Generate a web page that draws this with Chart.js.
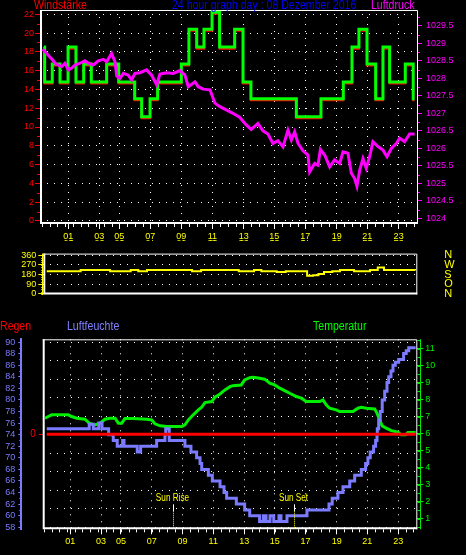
<!DOCTYPE html>
<html>
<head>
<meta charset="utf-8">
<script src="https://cdn.jsdelivr.net/npm/chart.js@4.4.1/dist/chart.umd.min.js"></script>
<style>
  html, body { margin: 0; padding: 0; background: #000; width: 466px; height: 555px; overflow: hidden; }
  canvas { position: absolute; left: 0; }
  .t { position: absolute; font-family: 'Liberation Sans', Arial, sans-serif; font-size: 12px; line-height: 12px;
       white-space: nowrap; transform: scaleX(0.88); transform-origin: 0 0; z-index: 2; }
</style>
</head>
<body>
<div class="t" style="left:34px;top:-1px;color:#ff0000">Windstärke</div>
<div class="t" style="left:172px;top:-1px;color:#0000ff">24 hour graph day : 08 Dezember 2016</div>
<div class="t" style="left:371px;top:-1px;color:#ff00ff">Luftdruck</div>
<div class="t" style="left:0px;top:320px;color:#ff0000">Regen</div>
<div class="t" style="left:67px;top:320px;color:#8080ff">Luftfeuchte</div>
<div class="t" style="left:313px;top:320px;color:#00ff00">Temperatur</div>

<canvas id="windChart" style="top:0" width="466" height="245"></canvas>
<canvas id="dirChart" style="top:228px" width="466" height="92"></canvas>
<canvas id="climateChart" style="top:315px" width="466" height="240"></canvas>

<script>
// ---- data (x = hours from the left edge of the plots) ----
const hourTicks = [1.83, 3.83, 5.12, 7.12, 9.12, 11.12, 13.14, 15.12, 17.12, 19.14, 21.12, 23.14];
const hourLabels = ['01', '03', '05', '07', '09', '11', '13', '15', '17', '19', '21', '23'];

const windTicks = [0, 2, 4, 6, 8, 10, 12, 14, 16, 18, 20, 22];
const pressTicks = [1024, 1024.5, 1025, 1025.5, 1026, 1026.5, 1027, 1027.5, 1028, 1028.5, 1029, 1029.5];
const dirTicks = [0, 90, 180, 270, 360];
const dirLetters = ['N', 'O', 'S', 'W', 'N'];
const humTicks = [58, 60, 62, 64, 66, 68, 70, 72, 74, 76, 78, 80, 82, 84, 86, 88, 90];
const humGrid = [58, 61.2, 64.4, 67.6, 70.8, 74, 77.2, 80.4, 83.6, 86.8, 90];
const rainTicks = [0];
const tempTicks = [1, 2, 3, 4, 5, 6, 7, 8, 9, 10, 11];

const windHours = [0.24, 0.30, 0.79, 1.29, 1.81, 2.32, 2.82, 3.31, 4.30, 5.08, 6.11, 6.56, 7.10, 7.59, 9.12,
  9.61, 10.11, 10.58, 11.10, 11.59, 12.56, 13.10, 13.61, 16.54, 18.13, 19.57, 20.13, 20.58, 21.10, 21.66,
  22.13, 22.56, 23.57, 24.08, 24.17];
const windSpeed = [18.5, 14.8, 16.7, 14.8, 18.5, 14.8, 16.7, 14.8, 16.7, 14.8, 13.0, 11.1, 13.0, 14.8, 16.7,
  20.4, 18.5, 20.4, 22.2, 18.5, 20.4, 14.8, 13.0, 11.1, 13.0, 14.8, 18.5, 20.4, 16.7, 13.0,
  18.5, 14.8, 16.7, 13.0, 13.0];

const pressHours = [0.17, 0.43, 0.65, 0.82, 0.97, 1.18, 1.40, 1.61, 1.83, 2.05, 2.26, 2.58, 2.90, 3.12, 3.44,
  3.76, 4.09, 4.30, 4.62, 4.84, 4.95, 5.16, 5.38, 5.70, 5.91, 6.13, 6.45, 6.88, 7.20, 7.53, 7.74, 8.17, 8.60,
  9.03, 9.35, 9.57, 10.00, 10.21, 10.54, 10.97, 11.29, 11.61, 12.05, 12.45, 12.88, 13.31, 13.63, 14.06, 14.39,
  14.71, 15.03, 15.35, 15.68, 16.00, 16.22, 16.43, 16.65, 16.97, 17.29, 17.40, 17.72, 17.94, 18.09, 18.37,
  18.69, 19.01, 19.34, 19.55, 19.87, 20.09, 20.30, 20.45, 20.63, 20.84, 21.05, 21.27, 21.48, 21.81, 22.13,
  22.39, 22.67, 22.99, 23.21, 23.53, 23.85, 24.17];
const pressure = [1028.83, 1028.71, 1028.60, 1028.52, 1028.43, 1028.38, 1028.33, 1028.43, 1028.24, 1028.29,
  1028.38, 1028.43, 1028.50, 1028.43, 1028.38, 1028.50, 1028.54, 1028.47, 1028.71, 1028.47, 1028.07, 1028.00,
  1028.14, 1028.09, 1027.95, 1028.14, 1028.16, 1028.24, 1028.09, 1027.81, 1028.12, 1028.16, 1028.14, 1028.22,
  1028.09, 1027.76, 1027.90, 1027.76, 1027.69, 1027.67, 1027.29, 1027.19, 1027.09, 1027.00, 1026.89, 1026.67,
  1026.54, 1026.71, 1026.50, 1026.41, 1026.14, 1026.22, 1026.04, 1026.52, 1026.24, 1026.47, 1026.14, 1025.93,
  1025.81, 1025.33, 1025.57, 1025.52, 1025.97, 1025.81, 1025.47, 1025.67, 1025.57, 1025.90, 1025.86, 1025.29,
  1025.14, 1024.92, 1025.38, 1025.71, 1025.43, 1025.76, 1026.19, 1026.05, 1025.95, 1025.76, 1026.00, 1026.14,
  1026.29, 1026.19, 1026.41, 1026.41];

const dirHours = [0.43, 2.62, 4.52, 5.85, 6.34, 6.90, 9.81, 10.39, 12.82, 13.81, 14.28, 15.27, 15.85, 17.23,
  17.62, 17.96, 18.32, 18.86, 19.35, 20.26, 21.29, 21.79, 22.19, 24.19];
const direction = [211, 222, 211, 222, 211, 222, 211, 222, 211, 222, 211, 205, 211, 170,
  174, 185, 205, 211, 222, 211, 222, 245, 222, 218];

const humHours = [0.30, 3.06, 3.32, 3.68, 3.89, 4.32, 4.62, 4.88, 5.23, 5.32, 6.18, 6.40, 7.44, 7.98, 8.03,
  8.26, 9.28, 9.67, 10.04, 10.26, 10.37, 10.80, 11.06, 11.56, 11.82, 11.99, 12.62, 13.16, 13.49, 14.13, 14.37,
  14.55, 14.81, 15.05, 15.39, 15.52, 15.91, 17.21, 18.64, 18.85, 19.22, 19.55, 19.99, 20.31, 20.74, 21.02,
  21.17, 21.32, 21.54, 21.67, 21.76, 21.78, 21.87, 21.97, 22.10, 22.26, 22.41, 22.52, 22.67, 22.80, 22.95,
  23.17, 23.49, 23.66, 23.82, 24.27];
const humidity = [75, 75.8, 75, 76, 75, 74, 73, 72, 73, 72, 71, 72, 73, 74, 75,
  73, 72, 71, 70, 69, 68, 67, 66, 65, 64, 63, 62, 61, 60, 59, 60,
  59, 60, 59, 60, 59, 60, 61, 62, 63, 64, 65, 66, 67, 68, 69,
  70, 71, 72, 73, 74, 75, 76.5, 78, 80, 81.5, 83, 84, 85, 86, 86.5,
  87, 88, 88.5, 89, 89];

const tempHours = [0.19, 0.40, 0.62, 0.95, 1.70, 1.92, 2.25, 2.78, 3.06, 3.43, 3.76, 4.08, 4.41, 4.74, 4.95,
  5.17, 5.38, 5.92, 6.79, 7.12, 7.33, 7.66, 8.09, 9.07, 9.28, 9.50, 9.82, 10.15, 10.37, 10.58, 11.02, 11.23,
  11.56, 11.88, 12.21, 12.40, 12.94, 13.16, 13.49, 13.70, 14.14, 14.46, 14.79, 15.11, 15.44, 15.76, 16.09,
  16.52, 16.84, 17.16, 18.04, 18.25, 18.46, 18.68, 19.11, 19.33, 20.20, 20.52, 20.74, 21.06, 21.61, 21.76,
  21.93, 22.10, 22.36, 22.69, 23.12, 23.34, 23.62, 23.77, 24.27];
const temperature = [6.92, 7.02, 7.12, 7.12, 7.12, 7.02, 6.92, 6.86, 6.63, 6.53, 6.63, 6.86, 6.92, 6.92, 6.63,
  6.63, 6.9, 6.9, 6.86, 6.82, 6.59, 6.47, 6.43, 6.43, 6.53, 6.82, 7.12, 7.41, 7.57, 7.84, 7.9, 8.16,
  8.35, 8.59, 8.78, 8.84, 8.88, 9.18, 9.31, 9.33, 9.28, 9.22, 8.98, 8.88, 8.69, 8.55, 8.39,
  8.2, 8.1, 7.9, 7.9, 8.0, 7.71, 7.51, 7.41, 7.31, 7.31, 7.51, 7.57, 7.51, 7.47, 7.22,
  6.82, 6.47, 6.33, 6.19, 6.1, 5.94, 5.94, 6.08, 6.08];

const rainHours = [0.30, 24.27];
const rain = [0, 0];

const sunEvents = ['Sun Rise', 'Sun Set'];
const sunHours = [8.52, 16.38];

// ---- helpers ----
const SANS = "'Liberation Sans', Arial, sans-serif";
Chart.defaults.font.family = SANS;
Chart.defaults.font.size = 9;

const pts = (xs, ys) => xs.map((x, i) => ({ x: x, y: ys[i] }));
const setTicks = vals => scale => { scale.ticks = vals.map(v => ({ value: v })); };
const DOTS = [1, 6];

// white box round the plot area
const frame = {
  id: 'frame',
  beforeDatasetsDraw(chart) {
    const { left, top, right, bottom } = chart.chartArea;
    const ctx = chart.ctx;
    ctx.save();
    ctx.strokeStyle = '#ffffff';
    ctx.lineWidth = 1;
    ctx.beginPath();
    ctx.moveTo(left, top + 0.5); ctx.lineTo(right - 0.5, top + 0.5); ctx.lineTo(right - 0.5, bottom);
    ctx.stroke();
    ctx.lineWidth = 2;
    ctx.beginPath();
    ctx.moveTo(left + 1, top); ctx.lineTo(left + 1, bottom - 1); ctx.lineTo(right, bottom - 1);
    ctx.stroke();
    ctx.restore();
  }
};

// small extra tick marks along the axes
const minorTicks = {
  id: 'minorTicks',
  afterDraw(chart, args, opts) {
    const ctx = chart.ctx;
    ctx.save();
    ctx.lineWidth = 1;
    (opts.marks || []).forEach(m => {
      const s = chart.scales[m.scale];
      ctx.strokeStyle = m.color;
      ctx.beginPath();
      for (let v = m.from; v <= m.to + 1e-6; v += m.step) {
        const p = Math.round(s.getPixelForValue(v)) + 0.5;
        if (s.isHorizontal()) {
          ctx.moveTo(p, s.top); ctx.lineTo(p, s.top + m.len);
        } else if (s.position === 'left') {
          ctx.moveTo(s.right - m.len, p); ctx.lineTo(s.right, p);
        } else {
          ctx.moveTo(s.left, p); ctx.lineTo(s.left + m.len, p);
        }
      }
      if (m.line !== undefined) {
        const x = Math.round(s.position === 'left' ? s.right - m.line : s.left + m.line) + 0.5;
        ctx.moveTo(x, chart.chartArea.top); ctx.lineTo(x, chart.chartArea.bottom);
      }
      ctx.stroke();
    });
    ctx.restore();
  }
};

// Sun Rise / Sun Set markers
const sunMarks = {
  id: 'sunMarks',
  afterDatasetsDraw(chart) {
    const ctx = chart.ctx;
    const x = chart.scales.x;
    const b = chart.chartArea.bottom;
    ctx.save();
    sunHours.forEach((h, i) => {
      const px = Math.round(x.getPixelForValue(h)) + 0.5;
      ctx.save();
      ctx.translate(px - 1, b - 28);
      ctx.scale(0.82, 1);
      ctx.font = '10px ' + SANS;
      ctx.textAlign = 'center';
      ctx.textBaseline = 'alphabetic';
      ctx.fillStyle = '#ffff00';
      ctx.fillText(sunEvents[i], 0, 0);
      ctx.restore();
      ctx.strokeStyle = '#ffffff';
      ctx.lineWidth = 1;
      ctx.setLineDash([]);
      ctx.beginPath(); ctx.moveTo(px, b - 25); ctx.lineTo(px, b - 18); ctx.stroke();
      ctx.strokeStyle = '#ffff00';
      ctx.setLineDash([1, 1]);
      ctx.beginPath(); ctx.moveTo(px, b - 18); ctx.lineTo(px, b - 1); ctx.stroke();
      ctx.setLineDash([]);
    });
    ctx.restore();
  }
};

const base = {
  responsive: false,
  animation: false,
  elements: { point: { radius: 0 }, line: { tension: 0, borderJoinStyle: 'miter' } },
};
const quiet = { legend: { display: false }, tooltip: { enabled: false } };

// ---- top chart: Windstärke + Luftdruck ----
new Chart(document.getElementById('windChart'), {
  type: 'line',
  data: {
    datasets: [
      { label: 'Luftdruck', data: pts(pressHours, pressure), yAxisID: 'yP', borderColor: '#ff00ff', borderWidth: 3 },
      { label: 'Windstärke', data: pts(windHours, windSpeed), yAxisID: 'y', borderColor: '#00ff00', borderWidth: 3, stepped: true },
      { label: 'Windstärke Mittel', data: pts(windHours, windSpeed), yAxisID: 'yR', borderColor: '#ff0000', borderWidth: 2, stepped: true }
    ]
  },
  options: Object.assign({}, base, {
    layout: { padding: { top: 10, left: 0, right: 0, bottom: 0 } },
    plugins: Object.assign({}, quiet, {
      minorTicks: { marks: [
        { scale: 'y', from: 1, to: 21, step: 2, len: 3, color: '#ff0000' },
        { scale: 'yP', from: 1024.25, to: 1029.75, step: 0.5, len: 2, color: '#ff00ff' },
        { scale: 'x', from: 0.12, to: 24.12, step: 0.5, len: 3, color: '#ffffff' }
      ] }
    }),
    scales: {
      x: {
        type: 'linear', min: 0, max: 24.39,
        afterBuildTicks: setTicks(hourTicks), afterFit: s => { s.height = 21; },
        ticks: { color: '#ffff00', autoSkip: false, maxRotation: 0, padding: 2, callback: (v, i) => hourLabels[i] },
        grid: { color: '#ffffff', tickColor: '#ffffff', tickLength: 5 },
        border: { display: false, dash: DOTS }
      },
      y: {
        position: 'left', min: -0.32, max: 22.45,
        afterBuildTicks: setTicks(windTicks), afterFit: s => { s.width = 40; },
        ticks: { color: '#ff0000', autoSkip: false, padding: 1 },
        grid: { color: '#ffffff', tickColor: '#ff0000', tickLength: 5 },
        border: { display: false, dash: DOTS }
      },
      yR: { display: false, min: -0.16, max: 22.61 },
      yP: {
        position: 'right', min: 1023.84, max: 1029.95,
        afterBuildTicks: setTicks(pressTicks), afterFit: s => { s.width = 48; },
        ticks: { color: '#ff00ff', autoSkip: false, padding: 4, callback: v => String(v) },
        grid: { drawOnChartArea: false, tickColor: '#ff00ff', tickLength: 4 },
        border: { display: false }
      }
    }
  }),
  plugins: [frame, minorTicks]
});

// ---- middle chart: Windrichtung ----
new Chart(document.getElementById('dirChart'), {
  type: 'line',
  data: {
    datasets: [
      { label: 'Windrichtung', data: pts(dirHours, direction), yAxisID: 'y', borderColor: '#ffff00', borderWidth: 2, stepped: true }
    ]
  },
  options: Object.assign({}, base, {
    layout: { padding: { top: 0, left: 0, right: 0, bottom: 11.3 } },
    plugins: Object.assign({}, quiet, {
      minorTicks: { marks: [
        { scale: 'y', from: 0, to: 360, step: 22.5, len: 2, color: '#ffff00', line: 1.5 }
      ] }
    }),
    scales: {
      x: {
        type: 'linear', position: 'top', min: 0.21, max: 24.34,
        afterBuildTicks: setTicks(hourTicks), afterFit: s => { s.height = 13.7; },
        ticks: { color: '#ffff00', autoSkip: false, maxRotation: 0, padding: 2, callback: (v, i) => hourLabels[i] },
        grid: { display: false },
        border: { display: false }
      },
      y: {
        position: 'left', min: -4, max: 375,
        afterBuildTicks: setTicks(dirTicks), afterFit: s => { s.width = 43.3; },
        ticks: { color: '#ffff00', autoSkip: false, padding: 2 },
        grid: { color: '#ffffff', tickColor: '#ffff00', tickLength: 5 },
        border: { display: false, dash: DOTS }
      },
      yD: {
        position: 'right', min: -4, max: 375,
        afterBuildTicks: setTicks(dirTicks), afterFit: s => { s.width = 48.7; },
        ticks: { color: '#ffff00', autoSkip: false, padding: 19, font: { size: 11 }, callback: (v, i) => dirLetters[i] },
        grid: { display: false },
        border: { display: false }
      }
    }
  }),
  plugins: [frame, minorTicks]
});

// ---- bottom chart: Regen, Luftfeuchte, Temperatur ----
new Chart(document.getElementById('climateChart'), {
  type: 'line',
  data: {
    datasets: [
      { label: 'Regen', data: pts(rainHours, rain), yAxisID: 'yRain', borderColor: '#ff0000', borderWidth: 3 },
      { label: 'Luftfeuchte', data: pts(humHours, humidity), yAxisID: 'yH', borderColor: '#7b7bff', borderWidth: 3, stepped: true },
      { label: 'Temperatur', data: pts(tempHours, temperature), yAxisID: 'yT', borderColor: '#00ee00', borderWidth: 3 }
    ]
  },
  options: Object.assign({}, base, {
    layout: { padding: { top: 24.3, left: 0, right: 0, bottom: 0 } },
    plugins: Object.assign({}, quiet, {
      minorTicks: { marks: [
        { scale: 'yH', from: 59, to: 89, step: 2, len: 2, color: '#7b7bff' },
        { scale: 'yT', from: 0.5, to: 11.5, step: 0.5, len: 3, color: '#00ee00', line: 2.5 },
        { scale: 'x', from: 0.12, to: 24.12, step: 0.5, len: 3, color: '#ffffff' }
      ] }
    }),
    scales: {
      x: {
        type: 'linear', min: 0.036, max: 24.38,
        afterBuildTicks: setTicks(hourTicks), afterFit: s => { s.height = 25.7; },
        ticks: { color: '#ffff00', autoSkip: false, maxRotation: 0, padding: 2, callback: (v, i) => hourLabels[i] },
        grid: { color: '#ffffff', tickColor: '#ffffff', tickLength: 5 },
        border: { display: false, dash: DOTS }
      },
      yH: {
        position: 'left', weight: 2, min: 57.65, max: 90.47,
        afterBuildTicks: setTicks(humTicks), afterFit: s => { s.width = 21.3; },
        ticks: { color: '#7b7bff', autoSkip: false, padding: 3 },
        grid: { drawOnChartArea: false, tickColor: '#7b7bff', tickLength: 3 },
        border: { display: true, color: '#7b7bff', width: 2 }
      },
      yRain: {
        position: 'left', weight: 1, min: -1, max: 1,
        afterBuildTicks: setTicks(rainTicks), afterFit: s => { s.width = 21.4; },
        ticks: { color: '#ff0000', autoSkip: false, padding: 3, font: { size: 10 } },
        grid: { drawOnChartArea: false, tickColor: '#ff0000', tickLength: 4 },
        border: { display: false }
      },
      yG: {
        position: 'left', weight: 0, min: 57.65, max: 90.47,
        afterBuildTicks: setTicks(humGrid), afterFit: s => { s.width = 0; },
        ticks: { display: false },
        grid: { color: '#ffffff', drawTicks: false },
        border: { display: false, dash: DOTS }
      },
      yT: {
        position: 'right', min: 0.375, max: 11.57,
        afterBuildTicks: setTicks(tempTicks), afterFit: s => { s.width = 48.7; },
        ticks: { color: '#00ee00', autoSkip: false, padding: 2 },
        grid: { drawOnChartArea: false, tickColor: '#00ee00', tickLength: 6 },
        border: { display: false }
      }
    }
  }),
  plugins: [frame, minorTicks, sunMarks]
});
</script>
</body>
</html>
